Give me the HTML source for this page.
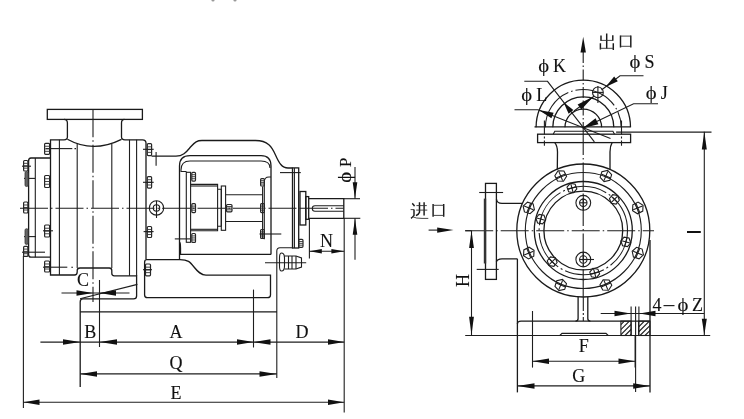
<!DOCTYPE html>
<html><head><meta charset="utf-8"><style>
html,body{margin:0;padding:0;background:#fff;}
svg{display:block;will-change:transform;}
.m{fill:none;stroke:#1a1a1a;stroke-width:1.3;}
.t{fill:none;stroke:#1e1e1e;stroke-width:1.1;}
.t2{fill:none;stroke:#222;stroke-width:1.2;}
.nut{fill:none;stroke:#262626;stroke-width:1.2;}
.nl{fill:none;stroke:#333;stroke-width:0.9;}
.d{fill:none;stroke:#1e1e1e;stroke-width:1.1;stroke-dasharray:14 2 2 2;}
.c{fill:none;stroke:#1e1e1e;stroke-width:1.1;stroke-dasharray:28 3 1.5 3;}
.c2{fill:none;stroke:#1e1e1e;stroke-width:1.1;stroke-dasharray:44 3 1.5 3;}
.c3{fill:none;stroke:#1e1e1e;stroke-width:1.1;stroke-dasharray:40 3 2 3;}
.c4{fill:none;stroke:#1e1e1e;stroke-width:1.1;stroke-dasharray:11 2.5 1.5 2.5;}
.g{fill:#666;stroke:#333;stroke-width:0.8;}
.g2{fill:none;stroke:#333;stroke-width:2.4;}
.f{fill:#111;stroke:none;}
.ph{fill:none;stroke:#1a1a1a;stroke-width:1.1;}
.cjv{fill:none;stroke:#1a1a1a;stroke-width:1.45;}
.cjh{fill:none;stroke:#333;stroke-width:0.9;}
text{font-family:"Liberation Serif",serif;fill:#111;stroke:#111;stroke-width:0.12;}
</style></head><body>
<svg width="744" height="419" viewBox="0 0 744 419">
<rect class="m" x="47.3" y="109.4" width="95.1" height="10" rx="0"/>
<path class="m" d="M64,119.4 Q67.4,119.4 67.4,123 L67.4,137 Q67.4,139.8 64,139.8 L50.5,139.8 L50.5,275 L74.5,275 Q77.2,275 77.2,272 L77.2,270.5 Q77.2,268 80,268 L109.3,268 Q111.8,268 111.8,270.5 L111.8,273.3 Q111.8,275.8 114.3,275.8 L136.6,275.8 L136.6,296 Q136.6,298.9 133.5,298.9 L83,298.9 Q80.2,298.9 80.2,302 L80.2,387"/>
<path class="m" d="M124.5,119.4 Q121.5,119.4 121.5,123 L121.5,137 Q121.5,139.8 125,139.8 L142.5,139.8 Q146,139.8 146,143 L146,259"/>
<path class="m" d="M67.4,139.3 Q93,153.5 121.5,139.3"/>
<line class="t" x1="59.4" y1="139.8" x2="59.4" y2="275"/>
<line class="t" x1="77.2" y1="143.5" x2="77.2" y2="268"/>
<line class="t" x1="111.8" y1="144" x2="111.8" y2="268"/>
<line class="t" x1="129.5" y1="139.8" x2="129.5" y2="275.8"/>
<line class="t" x1="136.6" y1="139.8" x2="136.6" y2="276"/>
<line class="t" x1="46" y1="148.6" x2="72.3" y2="148.6"/>
<line class="t" x1="74.5" y1="148.6" x2="76" y2="148.6"/>
<line class="t" x1="43" y1="267.2" x2="67.3" y2="267.2"/>
<line class="t" x1="71.3" y1="267.2" x2="73" y2="267.2"/>
<path class="m" d="M50.5,158 L31,158 Q28.6,158 28.6,161 L28.6,254.5 Q28.6,257.2 31,257.2 L50.5,257.2"/>
<line class="t" x1="35.3" y1="158" x2="35.3" y2="257.2"/>
<line class="t" x1="22" y1="166.2" x2="31" y2="166.2"/>
<line class="t" x1="24" y1="178.4" x2="35" y2="178.4"/>
<line class="t" x1="24" y1="236.6" x2="36" y2="236.6"/>
<line class="t" x1="22" y1="252.2" x2="45" y2="252.2"/>
<rect class="nut" x="23.6" y="160.5" width="4.3" height="10.5" rx="1"/>
<line class="nl" x1="23.6" y1="163.335" x2="27.900000000000002" y2="163.335"/>
<line class="nl" x1="23.6" y1="165.75" x2="27.900000000000002" y2="165.75"/>
<line class="nl" x1="23.6" y1="168.165" x2="27.900000000000002" y2="168.165"/>
<rect class="g" x="25" y="171.5" width="3.2" height="15" rx="1.5"/>
<rect class="nut" x="23.6" y="202" width="4.3" height="11" rx="1"/>
<line class="nl" x1="23.6" y1="204.97" x2="27.900000000000002" y2="204.97"/>
<line class="nl" x1="23.6" y1="207.5" x2="27.900000000000002" y2="207.5"/>
<line class="nl" x1="23.6" y1="210.03" x2="27.900000000000002" y2="210.03"/>
<rect class="g" x="25" y="228.7" width="3.2" height="15.7" rx="1.5"/>
<rect class="nut" x="23.6" y="246.4" width="4.3" height="10" rx="1"/>
<line class="nl" x1="23.6" y1="249.1" x2="27.900000000000002" y2="249.1"/>
<line class="nl" x1="23.6" y1="251.4" x2="27.900000000000002" y2="251.4"/>
<line class="nl" x1="23.6" y1="253.70000000000002" x2="27.900000000000002" y2="253.70000000000002"/>
<rect class="nut" x="44.6" y="143.3" width="5" height="11" rx="1"/>
<line class="nl" x1="44.6" y1="146.27" x2="49.6" y2="146.27"/>
<line class="nl" x1="44.6" y1="148.8" x2="49.6" y2="148.8"/>
<line class="nl" x1="44.6" y1="151.33" x2="49.6" y2="151.33"/>
<rect class="nut" x="44.6" y="175.5" width="5" height="12" rx="1"/>
<line class="nl" x1="44.6" y1="178.74" x2="49.6" y2="178.74"/>
<line class="nl" x1="44.6" y1="181.5" x2="49.6" y2="181.5"/>
<line class="nl" x1="44.6" y1="184.26" x2="49.6" y2="184.26"/>
<rect class="nut" x="44.6" y="225" width="5" height="12" rx="1"/>
<line class="nl" x1="44.6" y1="228.24" x2="49.6" y2="228.24"/>
<line class="nl" x1="44.6" y1="231.0" x2="49.6" y2="231.0"/>
<line class="nl" x1="44.6" y1="233.76" x2="49.6" y2="233.76"/>
<line class="t" x1="43" y1="230.8" x2="53" y2="230.8"/>
<rect class="nut" x="44.6" y="261" width="5" height="11" rx="1"/>
<line class="nl" x1="44.6" y1="263.97" x2="49.6" y2="263.97"/>
<line class="nl" x1="44.6" y1="266.5" x2="49.6" y2="266.5"/>
<line class="nl" x1="44.6" y1="269.03" x2="49.6" y2="269.03"/>
<rect class="nut" x="147.3" y="143.6" width="4.3" height="12" rx="1"/>
<line class="nl" x1="147.3" y1="146.84" x2="151.60000000000002" y2="146.84"/>
<line class="nl" x1="147.3" y1="149.6" x2="151.60000000000002" y2="149.6"/>
<line class="nl" x1="147.3" y1="152.35999999999999" x2="151.60000000000002" y2="152.35999999999999"/>
<line class="t" x1="143" y1="149.3" x2="153.7" y2="149.3"/>
<rect class="nut" x="147.3" y="176.6" width="4.3" height="11.5" rx="1"/>
<line class="nl" x1="147.3" y1="179.70499999999998" x2="151.60000000000002" y2="179.70499999999998"/>
<line class="nl" x1="147.3" y1="182.35" x2="151.60000000000002" y2="182.35"/>
<line class="nl" x1="147.3" y1="184.995" x2="151.60000000000002" y2="184.995"/>
<line class="t" x1="143" y1="182.3" x2="153.7" y2="182.3"/>
<rect class="nut" x="147.3" y="226.5" width="4.3" height="11" rx="1"/>
<line class="nl" x1="147.3" y1="229.47" x2="151.60000000000002" y2="229.47"/>
<line class="nl" x1="147.3" y1="232.0" x2="151.60000000000002" y2="232.0"/>
<line class="nl" x1="147.3" y1="234.53" x2="151.60000000000002" y2="234.53"/>
<line class="t" x1="143.6" y1="231.6" x2="153.6" y2="231.6"/>
<rect class="nut" x="145.5" y="264" width="5" height="11.8" rx="1"/>
<line class="nl" x1="145.5" y1="267.186" x2="150.5" y2="267.186"/>
<line class="nl" x1="145.5" y1="269.9" x2="150.5" y2="269.9"/>
<line class="nl" x1="145.5" y1="272.614" x2="150.5" y2="272.614"/>
<line class="t" x1="143" y1="269.7" x2="152" y2="269.7"/>
<line class="c" x1="93" y1="109.3" x2="93" y2="302"/>
<line class="c" x1="20" y1="208.2" x2="300" y2="208.2"/>
<line class="c" x1="300" y1="208.3" x2="343.5" y2="208.3"/>
<circle class="t" cx="156.5" cy="207.9" r="7.2"/>
<circle class="t" cx="156.5" cy="207.9" r="3.2"/>
<line class="t" x1="156.5" y1="200.8" x2="156.5" y2="218"/>
<path class="m" d="M151.5,156.2 L176,156.2 C184,156.2 187,151 191,146.5 C195,142 197,140.5 202,140.5 L255.5,140.5 C268,140.5 272,147 275.5,155 C279,163 282,168 288,168 L292.5,168"/>
<line class="t" x1="156.1" y1="152" x2="156.1" y2="165.8"/>
<path class="m" d="M179.5,259.4 L179.5,166 Q179.5,155.7 190,155.7 L261,155.7 Q271,155.7 271,166 L271,254.4"/>
<path class="t" d="M186.5,171.5 L181,171.5 L181,170 Q181,161 190,161 L261,161 Q270,161 270,168"/>
<path class="m" d="M146,259.6 L180,259.6 C188,259.6 190,262 194,267 C198,272 201,275.2 206,275.2 L270.5,275.2 L270.5,295 Q270.5,297.7 267.5,297.7 L147.5,297.7 Q144.6,297.7 144.6,295 L144.6,262.5 Q144.6,259.6 146.5,259.6"/>
<path class="m" d="M180,242.4 Q180.5,245 180.5,248 L180.5,254.4 L271,254.4"/>
<rect class="t" x="186.3" y="172.3" width="4.3" height="70" rx="0"/>
<rect class="nut" x="191.8" y="172.3" width="3.7" height="8.8" rx="1"/>
<line class="nl" x1="191.8" y1="174.67600000000002" x2="195.5" y2="174.67600000000002"/>
<line class="nl" x1="191.8" y1="176.70000000000002" x2="195.5" y2="176.70000000000002"/>
<line class="nl" x1="191.8" y1="178.72400000000002" x2="195.5" y2="178.72400000000002"/>
<rect class="nut" x="191.8" y="203.7" width="3.7" height="8.9" rx="1"/>
<line class="nl" x1="191.8" y1="206.10299999999998" x2="195.5" y2="206.10299999999998"/>
<line class="nl" x1="191.8" y1="208.14999999999998" x2="195.5" y2="208.14999999999998"/>
<line class="nl" x1="191.8" y1="210.197" x2="195.5" y2="210.197"/>
<rect class="nut" x="191.8" y="233.5" width="3.7" height="8.9" rx="1"/>
<line class="nl" x1="191.8" y1="235.903" x2="195.5" y2="235.903"/>
<line class="nl" x1="191.8" y1="237.95" x2="195.5" y2="237.95"/>
<line class="nl" x1="191.8" y1="239.997" x2="195.5" y2="239.997"/>
<line class="t" x1="174.8" y1="238.9" x2="190" y2="238.9"/>
<path class="t" d="M190.6,184.4 L217.6,184.4 L217.6,189.2 L221.3,189.2 M190.6,230.8 L217.6,230.8 L217.6,226.3 L221.3,226.3"/>
<line class="t" x1="190.6" y1="186" x2="217.6" y2="186"/>
<line class="t" x1="190.6" y1="229.3" x2="217.6" y2="229.3"/>
<line class="t" x1="217.6" y1="189.2" x2="217.6" y2="226.3"/>
<line class="t" x1="221.3" y1="189.2" x2="221.3" y2="226.3"/>
<rect class="t" x="221.3" y="186" width="4.3" height="44.3" rx="0"/>
<line class="t" x1="225.6" y1="194.8" x2="262.5" y2="194.8"/>
<line class="t" x1="225.6" y1="221.5" x2="262.5" y2="221.5"/>
<rect class="nut" x="226.5" y="204.5" width="5.5" height="7.3" rx="1"/>
<line class="nl" x1="226.5" y1="206.471" x2="232.0" y2="206.471"/>
<line class="nl" x1="226.5" y1="208.15" x2="232.0" y2="208.15"/>
<line class="nl" x1="226.5" y1="209.829" x2="232.0" y2="209.829"/>
<path class="t" d="M264.3,239.2 L264.3,182 Q264.3,177 269,177 L271,177"/>
<line class="t" x1="262.6" y1="186.5" x2="262.6" y2="239"/>
<rect class="nut" x="260.6" y="178.7" width="3.8" height="7.3" rx="1"/>
<line class="nl" x1="260.6" y1="180.671" x2="264.40000000000003" y2="180.671"/>
<line class="nl" x1="260.6" y1="182.35" x2="264.40000000000003" y2="182.35"/>
<line class="nl" x1="260.6" y1="184.029" x2="264.40000000000003" y2="184.029"/>
<rect class="nut" x="260.6" y="203.7" width="3.8" height="8.9" rx="1"/>
<line class="nl" x1="260.6" y1="206.10299999999998" x2="264.40000000000003" y2="206.10299999999998"/>
<line class="nl" x1="260.6" y1="208.14999999999998" x2="264.40000000000003" y2="208.14999999999998"/>
<line class="nl" x1="260.6" y1="210.197" x2="264.40000000000003" y2="210.197"/>
<rect class="nut" x="260.6" y="229.5" width="3.8" height="8.9" rx="1"/>
<line class="nl" x1="260.6" y1="231.903" x2="264.40000000000003" y2="231.903"/>
<line class="nl" x1="260.6" y1="233.95" x2="264.40000000000003" y2="233.95"/>
<line class="nl" x1="260.6" y1="235.997" x2="264.40000000000003" y2="235.997"/>
<line class="t" x1="259.5" y1="234" x2="281.3" y2="234"/>
<line class="t" x1="280" y1="172.6" x2="300.8" y2="172.6"/>
<rect class="m" x="292.5" y="167.9" width="6.2" height="80.1" rx="0"/>
<line class="t" x1="294.4" y1="167.9" x2="294.4" y2="248"/>
<rect class="nut" x="298.7" y="239.4" width="4.3" height="7.9" rx="1"/>
<line class="nl" x1="298.7" y1="241.53300000000002" x2="303.0" y2="241.53300000000002"/>
<line class="nl" x1="298.7" y1="243.35" x2="303.0" y2="243.35"/>
<line class="nl" x1="298.7" y1="245.167" x2="303.0" y2="245.167"/>
<rect class="m" x="300" y="191.5" width="5.8" height="33.5" rx="0"/>
<rect class="m" x="305.8" y="196.6" width="2.9" height="22.7" rx="0"/>
<path class="m" d="M308.7,198.7 L343.8,198.7 L343.8,218.3 L308.7,218.3"/>
<path class="t" d="M343.8,205.7 L315,205.7 Q312.3,205.7 312.3,208.45 Q312.3,211.2 315,211.2 L343.8,211.2"/>
<line class="t" x1="343.8" y1="198.7" x2="360" y2="198.7"/>
<line class="t" x1="343.8" y1="218.3" x2="360.3" y2="218.3"/>
<path class="t" d="M293,247.7 L280,247.7 Q276.8,247.7 276.8,251 L276.8,378"/>
<path class="t" d="M281.5,253 Q279.5,253 279.5,258 L279.5,266 Q279.5,271 281.5,271 Q284.5,271 284.5,266 L284.5,258 Q284.5,253 281.5,253 Z"/>
<path class="t" d="M284.5,256 L296,256 L301.5,258 L301.5,267 L296,269 L284.5,269"/>
<line class="t" x1="288.5" y1="256" x2="288.5" y2="269"/>
<line class="t" x1="292" y1="256" x2="292" y2="269"/>
<line class="t" x1="296" y1="256" x2="296" y2="269"/>
<line class="t" x1="265" y1="262.8" x2="306.2" y2="262.8"/>
<line class="m" x1="80.2" y1="311.8" x2="277" y2="311.8"/>
<line class="t" x1="137.4" y1="284.4" x2="80" y2="298.7"/>
<line class="t" x1="99.5" y1="280" x2="99.5" y2="347"/>
<line class="t" x1="61.5" y1="293" x2="129.5" y2="293"/>
<path class="f" d="M93.00,293.00 L76.50,295.75 L76.50,290.25 Z"/>
<path class="f" d="M99.50,293.00 L116.00,290.25 L116.00,295.75 Z"/>
<line class="t" x1="23.4" y1="256" x2="23.4" y2="408"/>
<line class="t" x1="253.5" y1="289.6" x2="253.5" y2="347.5"/>
<line class="t" x1="344.2" y1="218.3" x2="344.2" y2="412.5"/>
<line class="t" x1="309.4" y1="218.3" x2="309.4" y2="258.4"/>
<line class="t" x1="40.4" y1="342.1" x2="344.2" y2="342.1"/>
<path class="f" d="M80.20,342.10 L63.00,344.85 L63.00,339.35 Z"/>
<path class="f" d="M99.50,342.10 L117.00,339.35 L117.00,344.85 Z"/>
<path class="f" d="M253.50,342.10 L237.00,344.85 L237.00,339.35 Z"/>
<path class="f" d="M253.50,342.10 L270.50,339.35 L270.50,344.85 Z"/>
<path class="f" d="M344.20,342.10 L328.00,344.85 L328.00,339.35 Z"/>
<line class="t" x1="80.2" y1="373.9" x2="276.8" y2="373.9"/>
<path class="f" d="M80.20,373.90 L97.00,371.15 L97.00,376.65 Z"/>
<path class="f" d="M276.80,373.90 L259.50,376.65 L259.50,371.15 Z"/>
<line class="t" x1="23.4" y1="402.2" x2="344.2" y2="402.2"/>
<path class="f" d="M23.40,402.20 L39.50,399.45 L39.50,404.95 Z"/>
<path class="f" d="M344.20,402.20 L328.00,404.95 L328.00,399.45 Z"/>
<line class="t" x1="309.4" y1="251.2" x2="344.2" y2="251.2"/>
<path class="f" d="M309.40,251.20 L321.80,249.00 L321.80,253.40 Z"/>
<path class="f" d="M344.20,251.20 L331.40,253.40 L331.40,249.00 Z"/>
<line class="t" x1="355" y1="167" x2="355" y2="198.7"/>
<path class="f" d="M355.00,198.50 L352.70,182.20 L357.30,182.20 Z"/>
<line class="t" x1="355" y1="218.3" x2="355" y2="259.7"/>
<path class="f" d="M355.00,218.50 L357.30,234.80 L352.70,234.80 Z"/>
<text x="77" y="285.5" font-size="18" text-anchor="start" >C</text>
<text x="84.2" y="337.5" font-size="18" text-anchor="start" >B</text>
<text x="169.6" y="337.8" font-size="18" text-anchor="start" >A</text>
<text x="295.5" y="338.4" font-size="18" text-anchor="start" >D</text>
<text x="169.5" y="368.5" font-size="18" text-anchor="start" >Q</text>
<text x="170.5" y="399.2" font-size="18" text-anchor="start" >E</text>
<text x="320" y="247.3" font-size="18" text-anchor="start" >N</text>
<g transform="translate(351,181.5) rotate(-90)">
<text x="0" y="0" font-size="18" transform="translate(-1.2,0) scale(1.15,1)">&#x3D5;</text>
<text x="14.5" y="0" font-size="17" text-anchor="start" >P</text>
</g>
<path class="m" d="M536.10,127.3 A47.2,47.2 0 0 1 630.50,127.3"/>
<path class="c2" d="M545.40,127.3 A37.9,37.9 0 0 1 621.20,127.3"/>
<path class="m" d="M552.80,127.3 A30.5,30.5 0 0 1 613.80,127.3"/>
<path class="m" d="M565.00,127.3 A18.3,18.3 0 0 1 601.60,127.3"/>
<line class="m" x1="534.5" y1="126.8" x2="630.6" y2="126.8"/>
<path class="t" d="M553.2,134.2 L554.8,131.3 L612.9,131.3 L614.5,134.2"/>
<rect class="m" x="537.6" y="134.2" width="93" height="8.4" rx="0"/>
<line class="d" x1="544.4" y1="120.5" x2="544.4" y2="145.8"/>
<line class="d" x1="621.5" y1="120.5" x2="621.5" y2="145.8"/>
<line class="c4" x1="583.2" y1="52" x2="583.2" y2="127"/>
<line class="c" x1="583.2" y1="127" x2="583.2" y2="300"/>
<path class="f" d="M583.20,36.80 L585.90,52.40 L580.50,52.40 Z"/>
<circle class="t" cx="597.9" cy="92.4" r="5.4"/>
<line class="t" x1="597.9" y1="86" x2="597.9" y2="103"/>
<line class="t" x1="593" y1="92.4" x2="603" y2="92.4"/>
<path class="t" d="M524.3,81.3 L547.5,81.3 L594.4,141.8"/>
<path class="f" d="M563.50,102.20 L573.36,109.95 L568.64,113.65 Z"/>
<path class="t" d="M514.5,109.7 L537.9,109.7 L610.5,138.5"/>
<path class="f" d="M538.80,110.10 L553.60,112.71 L551.40,118.29 Z"/>
<path class="t" d="M643.5,75.7 L620,75.7 L601.5,90"/>
<path class="f" d="M605.50,86.90 L614.17,76.42 L617.83,81.18 Z"/>
<line class="t" x1="574" y1="111" x2="594" y2="96.2"/>
<path class="f" d="M593.50,96.60 L581.35,109.49 L577.65,104.51 Z"/>
<path class="t" d="M658,103.7 L633.6,103.7 L582.6,128.2"/>
<path class="f" d="M582.60,128.20 L595.57,118.32 L598.43,124.28 Z"/>
<text x="0" y="0" font-size="18" transform="translate(538.2,71.5) scale(1.15,1)">&#x3D5;</text>
<text x="553" y="71.8" font-size="18" text-anchor="start" >K</text>
<text x="0" y="0" font-size="18" transform="translate(521.3,100.9) scale(1.15,1)">&#x3D5;</text>
<text x="536.2" y="101.3" font-size="18" text-anchor="start" >L</text>
<text x="0" y="0" font-size="18" transform="translate(629.5,67.5) scale(1.15,1)">&#x3D5;</text>
<text x="644.5" y="67.8" font-size="18" text-anchor="start" >S</text>
<text x="0" y="0" font-size="18" transform="translate(645.8,98.5) scale(1.15,1)">&#x3D5;</text>
<text x="660.8" y="98.8" font-size="18" text-anchor="start" >J</text>
<line class="t" x1="616.1" y1="132.1" x2="711.5" y2="132.1"/>
<path class="m" d="M554.8,142.6 Q557.5,146 557.5,152 L557.3,169.5"/>
<path class="m" d="M612.1,142.6 Q610,146 610,152 L610,169.8"/>
<circle class="m" cx="583.3" cy="230.5" r="66.5"/>
<circle class="t" cx="583.3" cy="230.5" r="58"/>
<circle class="m" cx="583.3" cy="230.5" r="49"/>
<circle class="c3" cx="583.3" cy="230.5" r="44.2"/>
<circle class="m" cx="583.3" cy="230.5" r="39.4"/>
<line class="c" x1="465.2" y1="230.7" x2="654" y2="230.7"/>
<polygon class="t" points="643.44,254.85 639.09,258.84 633.46,257.06 632.18,251.30 636.53,247.32 642.16,249.09"/>
<line class="t" x1="633.18" y1="251.16" x2="642.44" y2="255.00"/>
<line class="t" x1="639.73" y1="248.45" x2="635.89" y2="257.71"/>
<polygon class="t" points="608.60,290.24 602.71,289.98 599.98,284.75 603.15,279.78 609.05,280.03 611.77,285.27"/>
<line class="t" x1="603.96" y1="280.38" x2="607.80" y2="289.64"/>
<line class="t" x1="610.51" y1="283.09" x2="601.25" y2="286.93"/>
<polygon class="t" points="558.95,290.64 554.96,286.29 556.74,280.66 562.50,279.38 566.48,283.73 564.71,289.36"/>
<line class="t" x1="562.64" y1="280.38" x2="558.80" y2="289.64"/>
<line class="t" x1="565.35" y1="286.93" x2="556.09" y2="283.09"/>
<polygon class="t" points="523.56,255.80 523.82,249.91 529.05,247.18 534.02,250.35 533.77,256.25 528.53,258.97"/>
<line class="t" x1="533.42" y1="251.16" x2="524.16" y2="255.00"/>
<line class="t" x1="530.71" y1="257.71" x2="526.87" y2="248.45"/>
<polygon class="t" points="523.16,206.15 527.51,202.16 533.14,203.94 534.42,209.70 530.07,213.68 524.44,211.91"/>
<line class="t" x1="533.42" y1="209.84" x2="524.16" y2="206.00"/>
<line class="t" x1="526.87" y1="212.55" x2="530.71" y2="203.29"/>
<polygon class="t" points="558.00,170.76 563.89,171.02 566.62,176.25 563.45,181.22 557.55,180.97 554.83,175.73"/>
<line class="t" x1="562.64" y1="180.62" x2="558.80" y2="171.36"/>
<line class="t" x1="556.09" y1="177.91" x2="565.35" y2="174.07"/>
<polygon class="t" points="607.65,170.36 611.64,174.71 609.86,180.34 604.10,181.62 600.12,177.27 601.89,171.64"/>
<line class="t" x1="603.96" y1="180.62" x2="607.80" y2="171.36"/>
<line class="t" x1="601.25" y1="174.07" x2="610.51" y2="177.91"/>
<polygon class="t" points="643.04,205.20 642.78,211.09 637.55,213.82 632.58,210.65 632.83,204.75 638.07,202.03"/>
<line class="t" x1="633.18" y1="209.84" x2="642.44" y2="206.00"/>
<line class="t" x1="635.89" y1="203.29" x2="639.73" y2="212.55"/>
<polygon class="t" points="617.63,195.56 619.34,200.26 616.12,204.09 611.20,203.22 609.49,198.52 612.70,194.69"/>
<line class="t" x1="611.41" y1="202.39" x2="617.42" y2="196.38"/>
<line class="t" x1="611.41" y1="196.38" x2="617.42" y2="202.39"/>
<polygon class="t" points="570.20,183.30 575.13,184.17 576.84,188.87 573.62,192.70 568.70,191.83 566.99,187.13"/>
<line class="t" x1="573.01" y1="192.10" x2="570.81" y2="183.89"/>
<line class="t" x1="567.81" y1="189.10" x2="576.02" y2="186.90"/>
<polygon class="t" points="535.88,218.24 539.09,214.41 544.01,215.28 545.72,219.98 542.51,223.81 537.59,222.94"/>
<line class="t" x1="544.90" y1="220.21" x2="536.69" y2="218.01"/>
<line class="t" x1="539.70" y1="223.22" x2="541.90" y2="215.01"/>
<polygon class="t" points="548.97,265.44 547.26,260.74 550.48,256.91 555.40,257.78 557.11,262.48 553.90,266.31"/>
<line class="t" x1="555.19" y1="258.61" x2="549.18" y2="264.62"/>
<line class="t" x1="555.19" y1="264.62" x2="549.18" y2="258.61"/>
<polygon class="t" points="596.40,277.70 591.47,276.83 589.76,272.13 592.98,268.30 597.90,269.17 599.61,273.87"/>
<line class="t" x1="593.59" y1="268.90" x2="595.79" y2="277.11"/>
<line class="t" x1="598.79" y1="271.90" x2="590.58" y2="274.10"/>
<polygon class="t" points="630.72,242.76 627.51,246.59 622.59,245.72 620.88,241.02 624.09,237.19 629.01,238.06"/>
<line class="t" x1="621.70" y1="240.79" x2="629.91" y2="242.99"/>
<line class="t" x1="626.90" y1="237.78" x2="624.70" y2="245.99"/>
<circle class="t" cx="583.3" cy="202.8" r="7.4"/>
<circle class="t" cx="583.3" cy="202.8" r="3.7"/>
<line class="t" x1="579.5999999999999" y1="202.8" x2="587.0" y2="202.8"/>
<line class="t" x1="583.3" y1="195.4" x2="583.3" y2="210.20000000000002"/>
<circle class="t" cx="583.3" cy="259.5" r="7.4"/>
<circle class="t" cx="583.3" cy="259.5" r="3.7"/>
<line class="t" x1="579.5999999999999" y1="259.5" x2="587.0" y2="259.5"/>
<line class="t" x1="583.3" y1="252.1" x2="583.3" y2="266.9"/>
<line class="t" x1="583.3" y1="259.5" x2="594" y2="259.5"/>
<rect class="m" x="485.5" y="183.4" width="10.9" height="96" rx="0"/>
<line class="g2" x1="485" y1="198.6" x2="485" y2="263.5"/>
<line class="t" x1="479.2" y1="192.5" x2="503.1" y2="192.5"/>
<line class="t" x1="476.7" y1="269.4" x2="498.7" y2="269.4"/>
<path class="m" d="M496.4,199 Q497,203.4 502,203.4 L522.2,203.4"/>
<path class="m" d="M496.4,262 Q497,258.8 502,258.8 L517.4,258.8"/>
<line class="m" x1="517.4" y1="258.8" x2="517.4" y2="392.4"/>
<line class="m" x1="650" y1="240" x2="650" y2="392.4"/>
<path class="m" d="M578.1,296.8 L578.1,318.5 Q578.1,321.1 575.5,321.1 M587.8,296.8 L587.8,318.5 Q587.8,321.1 590.4,321.1"/>
<line class="d" x1="583.3" y1="297" x2="583.3" y2="321"/>
<path class="m" d="M650,321.1 L521,321.1 Q517.4,321.1 517.4,324"/>
<line class="t" x1="465.2" y1="335.5" x2="710.2" y2="335.5"/>
<path class="t" d="M559.8,335.5 L562,333.4 L606,333.4 L608.2,335.5"/>
<rect class="t" x="620.9" y="321.1" width="10.2" height="14.4" rx="0"/>
<rect class="t" x="638.6" y="321.1" width="11.4" height="14.4" rx="0"/>
<clipPath id="h1"><rect x="620.9" y="321.1" width="10.2" height="14.4"/><rect x="638.6" y="321.1" width="11.4" height="14.4"/></clipPath>
<path class="t" clip-path="url(#h1)" d="M590.0,335.5 L604.4,321.1 M595.0,335.5 L609.4,321.1 M600.0,335.5 L614.4,321.1 M605.0,335.5 L619.4,321.1 M610.0,335.5 L624.4,321.1 M615.0,335.5 L629.4,321.1 M620.0,335.5 L634.4,321.1 M625.0,335.5 L639.4,321.1 M630.0,335.5 L644.4,321.1 M635.0,335.5 L649.4,321.1 M640.0,335.5 L654.4,321.1 M645.0,335.5 L659.4,321.1 M650.0,335.5 L664.4,321.1 M655.0,335.5 L669.4,321.1 M660.0,335.5 L674.4,321.1 M665.0,335.5 L679.4,321.1 "/>
<line class="t" x1="631.1" y1="306.6" x2="631.1" y2="335.5"/>
<line class="t" x1="635.6" y1="306.6" x2="635.6" y2="392"/>
<line class="t" x1="638.9" y1="306.6" x2="638.9" y2="335.5"/>
<line class="t" x1="532.5" y1="311" x2="532.5" y2="367.6"/>
<line class="t" x1="635.1" y1="335.5" x2="635.1" y2="367.6"/>
<line class="t" x1="600.7" y1="313.5" x2="704.2" y2="313.5"/>
<path class="f" d="M630.80,313.50 L614.50,316.30 L614.50,310.70 Z"/>
<path class="f" d="M639.40,313.50 L655.50,310.70 L655.50,316.30 Z"/>
<text x="652.5" y="310.6" font-size="18" text-anchor="start" >4</text>
<line class="t2" x1="663.5" y1="305.6" x2="674.5" y2="305.6"/>
<text x="0" y="0" font-size="18" transform="translate(677.5,310.6) scale(1.15,1)">&#x3D5;</text>
<text x="692" y="310.6" font-size="18" text-anchor="start" >Z</text>
<line class="t" x1="465.2" y1="230.7" x2="471.5" y2="230.7"/>
<line class="t" x1="471.5" y1="230.7" x2="471.5" y2="335.3"/>
<path class="f" d="M471.50,230.70 L473.90,248.00 L469.10,248.00 Z"/>
<path class="f" d="M471.50,335.30 L469.10,316.70 L473.90,316.70 Z"/>
<g transform="translate(468.7,287) rotate(-90)">
<text x="0" y="0" font-size="18" text-anchor="start" >H</text>
</g>
<line class="t" x1="704.3" y1="131.8" x2="704.3" y2="335"/>
<path class="f" d="M704.30,131.80 L706.80,149.50 L701.80,149.50 Z"/>
<path class="f" d="M704.30,335.00 L701.80,318.70 L706.80,318.70 Z"/>
<line x1="687" y1="232" x2="700.8" y2="232" stroke="#111" stroke-width="2"/>
<line class="t" x1="532.5" y1="361.2" x2="635.1" y2="361.2"/>
<path class="f" d="M532.50,361.20 L549.00,358.45 L549.00,363.95 Z"/>
<path class="f" d="M635.10,361.20 L618.50,363.95 L618.50,358.45 Z"/>
<line class="t" x1="517.4" y1="385.9" x2="650" y2="385.9"/>
<path class="f" d="M517.40,385.90 L534.50,383.15 L534.50,388.65 Z"/>
<path class="f" d="M650.00,385.90 L633.20,388.65 L633.20,383.15 Z"/>
<text x="578.8" y="351.5" font-size="18" text-anchor="start" >F</text>
<text x="572.2" y="381.6" font-size="18" text-anchor="start" >G</text>
<line class="t" x1="428.6" y1="230.1" x2="440" y2="230.1"/>
<path class="f" d="M453.50,230.10 L437.20,232.70 L437.20,227.50 Z"/>
<path class="cjv" d="M606.7,33.4 L606.7,48.6 M601,35.4 L601,40.8 M612.8,35.2 L612.8,40.8 M600.4,43.2 L600.4,49.6 M613.3,43.2 L613.3,50"/>
<path class="cjh" d="M600.6,40.4 L612.8,40.4 M600,48.3 L613.3,48.3"/>
<path class="cjv" d="M620.5,35.4 L620.5,47.6 M630.8,35.4 L630.8,47.6"/>
<path class="cjh" d="M620.5,36.1 L630.8,36.1 M620.5,46.3 L630.8,46.3"/>
<path class="cjv" d="M433.1,204 L433.1,216.8 M443.7,204 L443.7,216.8"/>
<path class="cjh" d="M433.1,205.3 L443.7,205.3 M433.1,215.4 L443.7,215.4"/>
<path class="cjv" d="M412.2,203.3 Q413.8,204.5 414.5,206.3 M414,209.6 L414,215.4 Q412.8,217 411,218.3"/>
<path class="cjh" d="M410.6,209.6 L414,209.6 M412.8,216.8 Q415.5,218.4 422,218.4 L428.3,218.4"/>
<path class="cjv" d="M419.5,202.3 L419.5,212.2 Q419,214 416,215.6 M424.1,202.2 L424.1,215.5"/>
<path class="cjh" d="M416.4,205.6 L426.8,205.6 M416.2,210.1 L427.3,210.1"/>
<circle cx="213" cy="0" r="1.6" fill="#999"/><circle cx="235" cy="0" r="1.6" fill="#999"/>
</svg></body></html>
